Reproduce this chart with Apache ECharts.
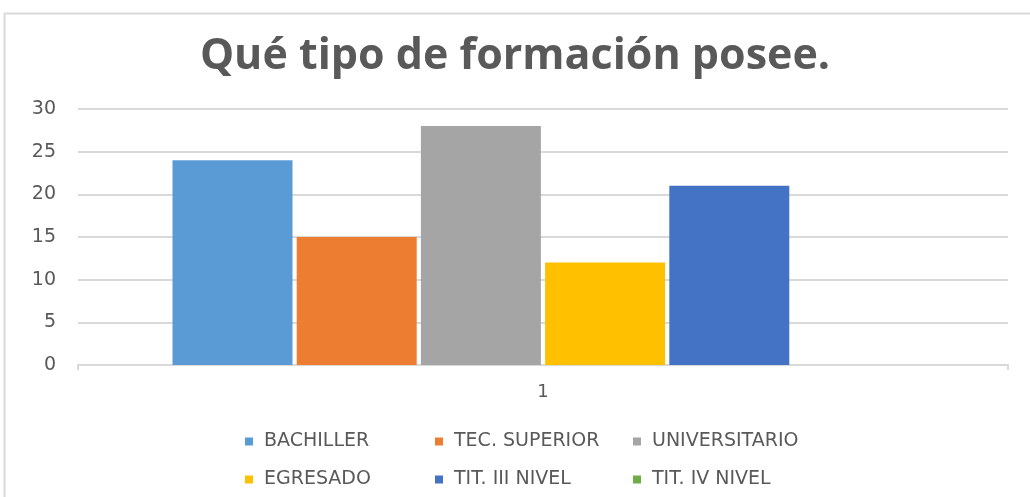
<!DOCTYPE html>
<html>
<head>
<meta charset="utf-8">
<title>Qué tipo de formación posee.</title>
<script src="https://cdn.jsdelivr.net/npm/echarts@6/dist/echarts.min.js"></script>
<style>
  html, body { margin: 0; padding: 0; background: #fff; }
  #chart { width: 1030px; height: 497px; }
</style>
</head>
<body>
<div id="chart"></div>
<script>
// datos
const categories = ['1']
const seriesNames = ['BACHILLER', 'TEC. SUPERIOR', 'UNIVERSITARIO', 'EGRESADO', 'TIT. III NIVEL', 'TIT. IV NIVEL']
const seriesValues = [[24], [15], [28], [12], [21], [0]]
const seriesColors = ['#5b9bd5', '#ed7d31', '#a5a5a5', '#ffc000', '#4472c4', '#70ad47']
const yTicks = { min: 0, max: 30, interval: 5 }

const titleFont = "'Open Sans', 'Noto Sans', sans-serif"
const labelFont = "'DejaVu Sans', 'Noto Sans', sans-serif"
const textColor = '#595959'

const chart = echarts.init(document.getElementById('chart'))

// leyenda: tres columnas verticales, dos filas
const legendCols = [240, 430, 628]
const legends = legendCols.map((x, c) => ({
  left: x,
  top: 426,
  orient: 'vertical',
  itemWidth: 8,
  itemHeight: 8,
  itemGap: 17,
  icon: 'rect',
  selectedMode: false,
  data: [seriesNames[c], seriesNames[c + 3]],
  textStyle: {
    color: textColor,
    fontFamily: labelFont,
    fontSize: 19,
    lineHeight: 21,
    padding: [0, 0, 0, 6]
  }
}))

chart.setOption({
  animation: false,
  title: {
    text: 'Qué tipo de formación posee.',
    left: 'center',
    top: 30,
    textStyle: {
      color: textColor,
      fontFamily: titleFont,
      fontWeight: 'bold',
      fontSize: 43
    }
  },
  graphic: [
    {
      type: 'rect',
      shape: { x: 4.5, y: 13.5, width: 1040, height: 500 },
      style: { fill: 'none', stroke: '#d9d9d9', lineWidth: 2 },
      silent: true
    }
  ],
  legend: legends,
  grid: {
    left: 78,
    right: 22,
    top: 109,
    bottom: 132
  },
  xAxis: {
    type: 'category',
    data: categories,
    axisLine: { lineStyle: { color: '#d9d9d9', width: 2 } },
    axisTick: { show: true, length: 5, lineStyle: { color: '#d9d9d9', width: 2 } },
    axisLabel: {
      color: textColor,
      fontFamily: labelFont,
      fontSize: 18,
      margin: 18
    }
  },
  yAxis: {
    type: 'value',
    min: yTicks.min,
    max: yTicks.max,
    interval: yTicks.interval,
    axisLine: { show: false },
    axisTick: { show: false },
    splitLine: { lineStyle: { color: '#d9d9d9', width: 2 } },
    axisLabel: {
      color: textColor,
      fontFamily: labelFont,
      fontSize: 19,
      margin: 22
    }
  },
  series: seriesNames.map((name, i) => ({
    name: name,
    type: 'bar',
    data: seriesValues[i],
    barWidth: 120,
    barGap: '3.5%',
    itemStyle: { color: seriesColors[i] }
  }))
})
</script>
</body>
</html>
